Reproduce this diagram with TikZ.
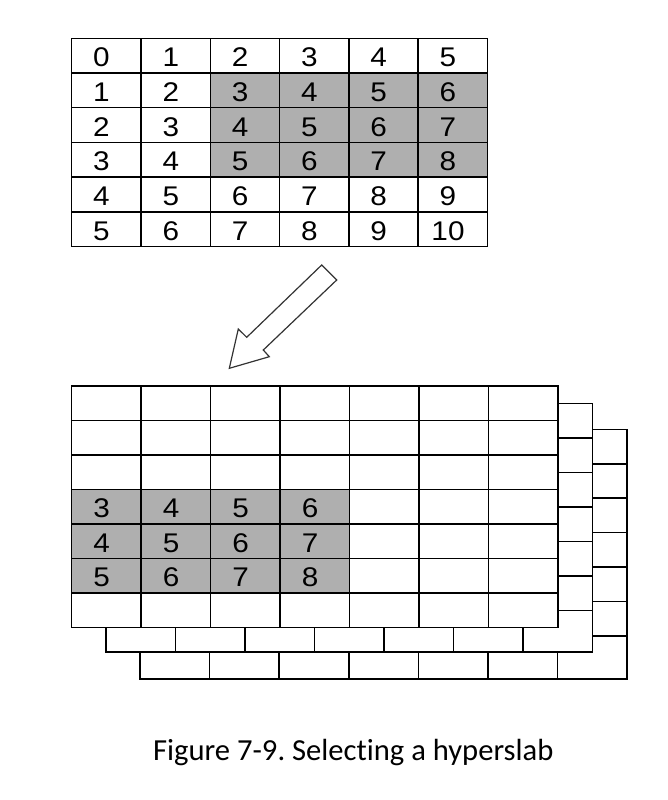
\documentclass[tikz,border=0pt]{standalone}
\usepackage{fontspec}
\newfontfamily\cellfont[FakeStretch=1.1]{Liberation Sans}
\newfontfamily\capfont[Ligatures=NoCommon]{Carlito}
\definecolor{slabgray}{RGB}{175,175,175}
\tikzset{
  cell/.style={font=\cellfont\fontsize{27}{27}\selectfont, inner sep=0pt, anchor=base},
  gridline/.style={line width=1.5pt, black}
}

\begin{document}
\begin{tikzpicture}[x=1pt, y=-1pt]
  \useasboundingbox (0,0) rectangle (668,800);
  % source array
  \begin{scope}[shift={(71.7,38.3)}, x=69.3pt, y=-34.7pt]
    \fill[slabgray] (2,1) rectangle (6,4);
    \draw[gridline] (0,0) rectangle (6,6);
    \foreach \i in {1,...,5}
      \draw[gridline] (\i,0) -- (\i,6) (0,\i) -- (6,\i);
    \foreach \r in {0,...,5}
      \foreach \c in {0,...,5} {
        \pgfmathtruncatemacro\val{\r+\c}
        \node[cell] (src-\r-\c) at (\c+0.43,\r+0.82) {\val};
      }
  \end{scope}

  % arrow
  \draw[line width=1.2pt, black!80] (321.7,265) -- (246.7,337.3) -- (238.3,329) -- (229.3,368.3)
    -- (269.3,356.7) -- (263.3,350) -- (336.7,280) -- cycle;

  % back planes
  \begin{scope}[shift={(140,429.3)}, x=69.6pt, y=-34.45pt]
    \draw[gridline, fill=white] (0,0) rectangle (7,7.25);
    \foreach \i in {1,...,6}
      \draw[gridline] (\i,0) -- (\i,7.25) (0,\i) -- (7,\i);
  \end{scope}
  \begin{scope}[shift={(106,403.3)}, x=69.5pt, y=-34.57pt]
    \draw[gridline, fill=white] (0,0) rectangle (7,7.19);
    \foreach \i in {1,...,6}
      \draw[gridline] (\i,0) -- (\i,7.19) (0,\i) -- (7,\i);
  \end{scope}

  % destination plane
  \begin{scope}[shift={(71.7,386)}, x=69.5pt, y=-34.53pt]
    \fill[white] (0,0) rectangle (7,7);
    \fill[slabgray] (0,3) rectangle (4,6);
    \draw[gridline] (0,0) rectangle (7,7);
    \foreach \i in {1,...,6}
      \draw[gridline] (\i,0) -- (\i,7) (0,\i) -- (7,\i);
    \foreach \r in {3,4,5}
      \foreach \c in {0,...,3} {
        \pgfmathtruncatemacro\val{\r+\c}
        \node[cell] (dst-\r-\c) at (\c+0.43,\r+0.82) {\val};
      }
  \end{scope}

  \node[font=\capfont\fontsize{30.6}{31}\selectfont, anchor=base] (caption) at (353.3,760)
    {\frenchspacing Figure 7-9. Selecting a hyperslab};
\end{tikzpicture}
\end{document}
